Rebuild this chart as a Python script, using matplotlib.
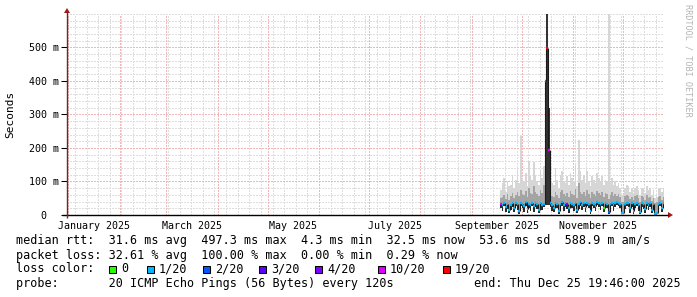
import numpy as np
import pandas as pd
import matplotlib
matplotlib.use("Agg")
import matplotlib.pyplot as plt
from matplotlib.collections import LineCollection
from matplotlib.patches import Polygon, Rectangle

# ---------------- data ----------------
first_day = "2025-09-18"
graph_origin = "2025-01-01"
graph_end = "2025-12-25 19:46:00"

median_ms = [34, 30, 36, 24, 33, 15, 31, 35, 22, 37,
             32, 12, 36, 33, 28, 38, 18, 34, 30, 36,
             26, 35, 33, 14, 37, 31, 34, 400, 497, 194,
             35, 30, 22, 36, 33, 11, 34, 38, 29, 35,
             33, 20, 37, 34, 30, 36, 16, 33, 38, 31,
             35, 24, 37, 33, 13, 36, 34, 28, 38, 35,
             32, 37, 22, 36, 34, 10, 33, 37, 30, 35,
             38, 36, 34, 6, 5, 33, 37, 36, 21, 35,
             12, 34, 36, 29, 8, 35, 33, 17, 36, 31,
             35, 14, 34, 4, 5, 33, 36, 22, 35]
min_ms = [20, 12, 26, 8, 18, 6, 14, 25, 9, 28,
          16, 4, 27, 20, 10, 28, 7, 22, 12, 26,
          10, 24, 18, 5, 28, 15, 25, 30, 30, 30,
          24, 12, 8, 27, 20, 4, 22, 28, 12, 25,
          18, 6, 28, 22, 13, 27, 5, 18, 28, 14,
          24, 9, 28, 20, 4, 26, 22, 11, 29, 24,
          15, 28, 8, 25, 20, 3, 17, 28, 12, 24,
          29, 26, 22, 2, 2, 18, 28, 25, 7, 24,
          4, 20, 27, 12, 3, 25, 18, 6, 27, 14,
          24, 5, 20, 2, 2, 17, 27, 8, 25]
p75_ms = [50, 55, 60, 48, 62, 45, 58, 66, 52, 60,
          70, 58, 75, 64, 60, 72, 55, 80, 66, 62,
          85, 70, 64, 58, 75, 66, 90, 400, 598, 318,
          62, 58, 55, 70, 60, 50, 68, 75, 62, 58,
          66, 55, 72, 64, 60, 78, 52, 95, 70, 62,
          68, 56, 74, 62, 50, 70, 64, 58, 72, 66,
          60, 70, 55, 66, 62, 48, 60, 70, 58, 64,
          58, 62, 55, 40, 38, 56, 60, 58, 48, 55,
          45, 56, 60, 52, 40, 58, 54, 46, 60, 52,
          55, 42, 52, 36, 38, 54, 58, 46, 55]
max_ms = [75, 95, 110, 70, 100, 85, 90, 120, 80, 105,
          130, 95, 235, 110, 100, 125, 85, 160, 115, 105,
          158, 120, 100, 90, 135, 110, 145, 400, 598, 318,
          110, 95, 88, 140, 105, 80, 120, 130, 100, 95,
          115, 90, 125, 110, 100, 150, 85, 223, 130, 105,
          120, 95, 130, 100, 85, 115, 105, 95, 125, 110,
          100, 115, 90, 105, 100, 600, 95, 110, 90, 100,
          85, 95, 80, 60, 55, 80, 90, 85, 70, 80,
          65, 80, 85, 75, 60, 82, 78, 65, 85, 75,
          80, 60, 75, 50, 55, 78, 82, 68, 80]
loss_of_20 = [10, 1, 1, 1, 1, 1, 1, 1, 1, 1,
              1, 1, 1, 1, 1, 1, 1, 1, 1, 1,
              1, 1, 1, 1, 1, 1, 1, 10, 19, 10,
              1, 1, 1, 1, 1, 1, 1, 1, 1, 1,
              4, 1, 1, 1, 1, 1, 1, 1, 1, 1,
              1, 1, 1, 1, 1, 1, 1, 1, 1, 1,
              1, 1, 0, 1, 1, 2, 1, 1, 1, 1,
              1, 1, 1, 1, 1, 1, 1, 1, 1, 1,
              1, 1, 1, 1, 1, 1, 1, 1, 1, 1,
              1, 1, 1, 1, 1, 1, 1, 1, 1]

y_ticks_ms = [0, 100, 200, 300, 400, 500]
y_tick_labels = ["  0  ", "100 m", "200 m", "300 m", "400 m", "500 m"]
month_labels = ["January 2025", "March 2025", "May 2025",
                "July 2025", "September 2025", "November 2025"]
loss_counts = [0, 1, 2, 3, 4, 10, 19]
loss_labels = ["0", "1/20", "2/20", "3/20", "4/20", "10/20", "19/20"]
loss_colors = ["#26ff00", "#00b8ff", "#0059ff", "#5e00ff", "#7e00ff", "#dd00ff", "#ff0000"]

line_rtt = "median rtt:  31.6 ms avg  497.3 ms max  4.3 ms min  32.5 ms now  53.6 ms sd  588.9 m am/s"
line_loss = "packet loss: 32.61 % avg  100.00 % max  0.00 % min  0.29 % now"
line_probe = "probe:       20 ICMP Echo Pings (56 Bytes) every 120s"
line_end = "end: Thu Dec 25 19:46:00 2025"
y_title = "Seconds"
watermark = "RRDTOOL / TOBI OETIKER"

# ---------------- helpers ----------------
origin = pd.Timestamp(graph_origin)
day = pd.Timedelta(days=1)
n = len(median_ms)
x_days = ((pd.date_range(first_day, periods=n, freq="D") - origin) / day).to_numpy()
end_day = (pd.Timestamp(graph_end) - origin) / day
x_edges = np.append(x_days, x_days[-1] + 1)


def ext(a):
    a = np.asarray(a, dtype=float)
    return np.append(a, a[-1])


def loss_color(c):
    col = loss_colors[0]
    for lc, cc in zip(loss_counts, loss_colors):
        if c >= lc:
            col = cc
    return col


MONO = "DejaVu Sans Mono"
W, H = 697, 297
fig = plt.figure(figsize=(W / 100, H / 100), dpi=100)
fig.patch.set_facecolor("white")

ax_left, ax_right, ax_top, ax_bottom = 67, 664, 13.8, 215
ax = fig.add_axes([ax_left / W, (H - ax_bottom) / H,
                   (ax_right - ax_left) / W, (ax_bottom - ax_top) / H])
ax.set_xlim(-0.8, end_day)
ax.set_ylim(0, 600)
ax.set_facecolor("white")
for s in ax.spines.values():
    s.set_visible(False)

# grid (crisp 1px dotted)
dot = (0, (1.4, 1.4))
month_starts = ((pd.date_range("2025-01-01", "2025-12-01", freq="MS") - origin) / day).to_numpy()
sundays = ((pd.date_range("2025-01-05", "2025-12-25", freq="W-SUN") - origin) / day).to_numpy()
minor_y = [v for v in range(20, 601, 20) if v % 100 != 0 or v == 600]
g1 = ax.vlines(sundays, 0, 600, colors="#dedede", linestyles=dot, lw=0.72, zorder=0)
g2 = ax.hlines(minor_y, -0.8, end_day, colors="#dedede", linestyles=dot, lw=0.72, zorder=0)
g3 = ax.vlines(month_starts, 0, 600, colors="#f0b8b8", linestyles=dot, lw=0.72, zorder=0.5)
g4 = ax.hlines([100, 200, 300, 400, 500], -0.8, end_day, colors="#f0b8b8", linestyles=dot, lw=0.72, zorder=0.5)
for g in (g1, g2, g3, g4):
    g.set_antialiased(False)

# smoke
ax.fill_between(x_edges, ext(min_ms), ext(max_ms), step="post", color="#d6d6d6", lw=0, zorder=2)
ax.fill_between(x_edges, ext(min_ms), ext(p75_ms), step="post", color="#a4a4a4", lw=0, zorder=3)
ax.fill_between(x_edges, ext(min_ms), ext(median_ms), step="post", color="#2a2a2a", lw=0, zorder=4)
for i in range(n):
    if loss_of_20[i] >= 10 and median_ms[i] > 100:
        ax.fill_between([x_edges[i], x_edges[i + 1]], [min_ms[i]] * 2, [p75_ms[i]] * 2,
                        color="#333333", lw=0, zorder=4)

# median: horizontal ticks coloured by loss, vertical joins dark
hsegs, hcols, vsegs = [], [], []
for i in range(n):
    hsegs.append([(x_edges[i], median_ms[i]), (x_edges[i + 1], median_ms[i])])
    hcols.append(loss_color(loss_of_20[i]))
    if i + 1 < n:
        vsegs.append([(x_edges[i + 1], median_ms[i]), (x_edges[i + 1], median_ms[i + 1])])
ax.add_collection(LineCollection(vsegs, colors="#1a1a1a", linewidths=0.8, zorder=5))
ax.add_collection(LineCollection(hsegs, colors=hcols, linewidths=1.7, zorder=6, capstyle="butt"))

# ticks
ax.set_yticks(y_ticks_ms, y_tick_labels, fontfamily=MONO, fontsize=7.2)
ax.tick_params(axis="y", which="major", length=4, width=0.75, pad=2, colors="black")
mid_months = []
for lbl in month_labels:
    t = pd.Timestamp(lbl.replace(" ", " 1 "))
    mid_months.append(((t - origin) / day + (t + pd.offsets.MonthBegin(1) - origin) / day) / 2)
ax.set_xticks(mid_months, month_labels, fontfamily=MONO, fontsize=7.2)
ax.tick_params(axis="x", length=0, pad=4)

# overlay in pixel coordinates
ov = fig.add_axes([0, 0, 1, 1], zorder=10)
ov.set_xlim(0, W)
ov.set_ylim(H, 0)
ov.axis("off")
ov.patch.set_visible(False)
ov.plot([62, 668], [215, 215], color="black", lw=1.0, solid_capstyle="butt")
ov.plot([67, 67], [218, 12], color="#6a2a2a", lw=1.0, solid_capstyle="butt")
ov.add_patch(Polygon([[668, 212], [668, 218], [673, 215]], closed=True, color="#a01818", lw=0))
ov.add_patch(Polygon([[64, 13], [70, 13], [67, 8]], closed=True, color="#a01818", lw=0))

ov.text(10.5, 114, y_title, rotation=90, ha="center", va="center", fontsize=8, family=MONO)
ov.text(688, 4, watermark, rotation=-90, ha="center", va="top", fontsize=6.1,
        family=MONO, color="#b4b4b4")

fs = 8.5
ov.text(16, 240.7, line_rtt, va="center", ha="left", fontsize=fs, family=MONO)
ov.text(16, 255.0, line_loss, va="center", ha="left", fontsize=fs, family=MONO)
ov.text(16, 269.0, "loss color:", va="center", ha="left", fontsize=fs, family=MONO)
box_x = [109, 146.5, 203, 259, 315, 378, 443]
for bx, lbl, col in zip(box_x, loss_labels, loss_colors):
    ov.add_patch(Rectangle((bx, 265.5), 7, 7, facecolor=col, edgecolor="black", lw=0.75))
    ov.text(bx + 12, 269.0, lbl, va="center", ha="left", fontsize=fs, family=MONO)
ov.text(16, 283.3, line_probe, va="center", ha="left", fontsize=fs, family=MONO)
ov.text(681, 283.3, line_end, va="center", ha="right", fontsize=fs, family=MONO)

fig.savefig("out.png", dpi=100, facecolor="white")
